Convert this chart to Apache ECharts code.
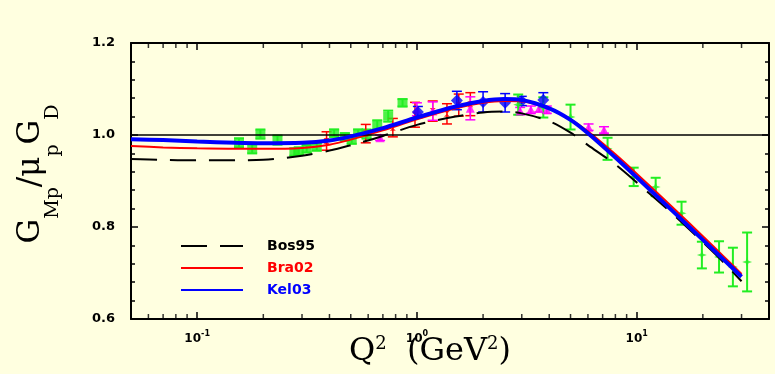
<!DOCTYPE html>
<html>
<head>
<meta charset="utf-8">
<script src="https://cdn.jsdelivr.net/npm/echarts@6/dist/echarts.min.js"></script>
<style>
  html, body { margin: 0; padding: 0; background: #ffffe0; }
  #chart { width: 775px; height: 374px; }
</style>
</head>
<body>
<div id="chart"></div>
<script>
  // Q^2 grid (GeV^2) for the fit curves
  var qGrid = [0.05, 0.07, 0.1, 0.15, 0.2, 0.3, 0.4, 0.5, 0.7, 1.0, 1.5, 2, 2.5, 3, 4, 5, 6, 8, 10, 15, 20, 25, 30];
  var bos95 = [0.948, 0.946, 0.945, 0.945, 0.946, 0.955, 0.966, 0.978, 0.998, 1.022, 1.040, 1.049, 1.051, 1.047, 1.030, 1.005, 0.978, 0.936, 0.897, 0.823, 0.767, 0.722, 0.682];
  var bra02 = [0.976, 0.973, 0.971, 0.970, 0.970, 0.972, 0.979, 0.990, 1.010, 1.034, 1.058, 1.070, 1.074, 1.073, 1.058, 1.034, 1.008, 0.958, 0.916, 0.837, 0.780, 0.735, 0.698];
  var kel03 = [0.991, 0.989, 0.986, 0.983, 0.982, 0.983, 0.988, 0.997, 1.015, 1.038, 1.062, 1.074, 1.078, 1.076, 1.058, 1.033, 1.004, 0.951, 0.908, 0.829, 0.772, 0.728, 0.692];

  // data points: [Q2, GMp/(mu_p GD), error]
  var greenSquares = [
    [0.155, 0.983, 0.010], [0.178, 0.970, 0.010], [0.194, 1.002, 0.010], [0.232, 0.989, 0.010],
    [0.277, 0.963, 0.008], [0.29, 0.965, 0.008], [0.315, 0.970, 0.008], [0.35, 0.974, 0.008],
    [0.42, 1.004, 0.008], [0.47, 0.996, 0.008], [0.505, 0.989, 0.008], [0.54, 1.004, 0.008],
    [0.59, 1.002, 0.010], [0.66, 1.022, 0.010], [0.74, 1.041, 0.012], [0.86, 1.070, 0.008]
  ];
  var redPoints = [
    [0.388, 0.987, 0.020], [0.585, 1.003, 0.020], [0.777, 1.016, 0.020], [0.98, 1.044, 0.027],
    [1.18, 1.052, 0.022], [1.37, 1.046, 0.022], [1.55, 1.065, 0.024], [1.75, 1.067, 0.025]
  ];
  var magentaPoints = [
    [0.68, 0.994, 0.006], [1.0, 1.056, 0.014], [1.18, 1.052, 0.020], [1.75, 1.058, 0.025],
    [2.95, 1.052, 0.008], [3.3, 1.055, 0.008], [3.6, 1.058, 0.008], [3.9, 1.055, 0.008],
    [6.04, 1.017, 0.007], [7.1, 1.011, 0.007]
  ];
  var bluePoints = [
    [1.01, 1.050, 0.012], [1.52, 1.075, 0.020], [2.0, 1.072, 0.022],
    [2.52, 1.070, 0.020], [3.0, 1.074, 0.010], [3.76, 1.076, 0.016]
  ];
  var greenStars = [
    [2.89, 1.066, 0.022], [3.76, 1.060, 0.022], [5.0, 1.039, 0.027], [7.37, 0.970, 0.024],
    [9.69, 0.909, 0.020], [12.2, 0.887, 0.020], [16.0, 0.830, 0.025], [19.8, 0.739, 0.029],
    [23.7, 0.735, 0.034], [27.4, 0.713, 0.042], [31.8, 0.724, 0.064]
  ];

  var xMinorTicks = [0.06, 0.07, 0.08, 0.09, 0.2, 0.3, 0.4, 0.5, 0.6, 0.7, 0.8, 0.9, 2, 3, 4, 5, 6, 7, 8, 9, 20, 30];

  function pairs(xs, ys) {
    return xs.map(function (x, i) { return [x, ys[i]]; });
  }

  function errorBars(color, width) {
    return function (params, api) {
      var x = api.value(0), y = api.value(1), e = api.value(2);
      var hi = api.coord([x, y + e]);
      var lo = api.coord([x, y - e]);
      var w = 5;
      var st = { stroke: color, lineWidth: width };
      return {
        type: 'group',
        children: [
          { type: 'line', shape: { x1: hi[0], y1: hi[1], x2: lo[0], y2: lo[1] }, style: st },
          { type: 'line', shape: { x1: hi[0] - w, y1: hi[1], x2: hi[0] + w, y2: hi[1] }, style: st },
          { type: 'line', shape: { x1: lo[0] - w, y1: lo[1], x2: lo[0] + w, y2: lo[1] }, style: st }
        ]
      };
    };
  }

  var GREEN = '#22ee22', RED = '#ff0000', MAGENTA = '#ff00ff', BLUE = '#0000ff';
  var labelFont = 'DejaVu Sans';

  var myChart = echarts.init(document.getElementById('chart'));

  var axisCommon = {
    axisLine: { show: true, lineStyle: { color: '#000', width: 2 } },
    axisTick: { show: true, inside: true, length: 7, lineStyle: { color: '#000', width: 1.5 } },
    splitLine: { show: false }
  };

  var options = {
    backgroundColor: '#ffffe0',
    animation: false,
    grid: { left: 131, right: 6, top: 43, bottom: 55, containLabel: false, outerBoundsMode: 'none' },
    xAxis: [
      Object.assign({
        type: 'log', logBase: 10, min: 0.05, max: 40, position: 'bottom',
        axisLabel: {
          margin: 11,
          color: '#000',
          formatter: function (v) {
            var e = Math.log10(v);
            if (Math.abs(e - Math.round(e)) > 1e-6) return '';
            return '{b|10}{s|' + Math.round(e) + '}';
          },
          rich: {
            b: { fontFamily: labelFont, fontWeight: 'bold', fontSize: 12, lineHeight: 18, color: '#000' },
            s: { fontFamily: labelFont, fontWeight: 'bold', fontSize: 8, lineHeight: 10, verticalAlign: 'top', color: '#000' }
          }
        }
      }, axisCommon),
      Object.assign({
        type: 'log', logBase: 10, min: 0.05, max: 40, position: 'top',
        axisLabel: { show: false }
      }, axisCommon)
    ],
    yAxis: [
      Object.assign({
        type: 'value', min: 0.6, max: 1.2, interval: 0.2, position: 'left',
        minorTick: { show: true, splitNumber: 5, length: 4, lineStyle: { color: '#000', width: 1.5 } },
        axisLabel: {
          margin: 16, color: '#000', fontFamily: labelFont, fontWeight: 'bold', fontSize: 13,
          formatter: function (v) { return v.toFixed(1); }
        }
      }, axisCommon),
      Object.assign({
        type: 'value', min: 0.6, max: 1.2, interval: 0.2, position: 'right',
        minorTick: { show: true, splitNumber: 5, length: 4, lineStyle: { color: '#000', width: 1.5 } },
        axisLabel: { show: false }
      }, axisCommon)
    ],
    legend: {
      orient: 'vertical',
      left: 175,
      top: 234,
      itemWidth: 62,
      itemHeight: 14,
      itemGap: 8,
      itemStyle: { opacity: 0 },
      lineStyle: { width: 2 },
      textStyle: { fontFamily: labelFont, fontWeight: 'bold', fontSize: 14, padding: [0, 0, 0, 19] },
      data: [
        { name: 'Bos95', textStyle: { color: '#000' } },
        { name: 'Bra02', textStyle: { color: RED } },
        { name: 'Kel03', textStyle: { color: BLUE } }
      ]
    },
    graphic: [
      {
        type: 'text',
        x: 31, y: 174,
        rotation: Math.PI / 2,
        style: {
          text: '{g|G}{s|Mp}{g|/μ}{s|p}{g|G}{s|D}',
          align: 'center',
          verticalAlign: 'middle',
          fill: '#000',
          rich: {
            g: { fontFamily: 'DejaVu Serif', fontSize: 31, lineHeight: 64, fill: '#000' },
            s: { fontFamily: 'DejaVu Serif', fontSize: 19, lineHeight: 19, verticalAlign: 'bottom', fill: '#000' }
          }
        }
      },
      {
        type: 'text',
        x: 430, y: 352,
        style: {
          text: '{m|Q}{s|2}{m|  (GeV}{s|2}{m|)}',
          align: 'center',
          verticalAlign: 'middle',
          fill: '#000',
          rich: {
            m: { fontFamily: 'DejaVu Serif', fontSize: 32, lineHeight: 34, fill: '#000' },
            s: { fontFamily: 'DejaVu Serif', fontSize: 18, lineHeight: 18, verticalAlign: 'top', fill: '#000' }
          }
        }
      }
    ],
    series: [
      { type: 'custom', name: 'gsqErr', renderItem: errorBars(GREEN, 2), data: greenSquares, encode: { x: 0, y: 1 }, z: 2, silent: true },
      { type: 'custom', name: 'redErr', renderItem: errorBars(RED, 1.5), data: redPoints, encode: { x: 0, y: 1 }, z: 2, silent: true },
      { type: 'custom', name: 'magErr', renderItem: errorBars(MAGENTA, 1.5), data: magentaPoints, encode: { x: 0, y: 1 }, z: 2, silent: true },
      { type: 'custom', name: 'bluErr', renderItem: errorBars(BLUE, 1.5), data: bluePoints, encode: { x: 0, y: 1 }, z: 2, silent: true },
      { type: 'custom', name: 'gstErr', renderItem: errorBars(GREEN, 2), data: greenStars, encode: { x: 0, y: 1 }, z: 2, silent: true },
      { type: 'scatter', name: 'gsq', data: greenSquares, symbol: 'rect', symbolSize: [10, 9], itemStyle: { color: GREEN }, z: 3, silent: true },
      { type: 'scatter', name: 'red', data: redPoints, symbol: 'path://M0,0L10,0L5,5L10,10L0,10L5,5Z', symbolSize: 6, itemStyle: { color: RED }, z: 3, silent: true },
      { type: 'scatter', name: 'mag', data: magentaPoints, symbol: 'triangle', symbolSize: 9, itemStyle: { color: MAGENTA }, z: 3, silent: true },
      { type: 'scatter', name: 'blu', data: bluePoints, symbol: 'diamond', symbolSize: 12, itemStyle: { color: BLUE }, z: 3, silent: true },
      { type: 'scatter', name: 'gst', data: greenStars, symbol: 'path://M5,0L6.3,3.7L10,5L6.3,6.3L5,10L3.7,6.3L0,5L3.7,3.7Z', symbolSize: 10, itemStyle: { color: GREEN }, z: 3, silent: true },
      {
        type: 'line', name: 'Bos95', data: pairs(qGrid, bos95), smooth: 0.3, symbol: 'none', z: 4, silent: true,
        lineStyle: { color: '#000', width: 2, type: [26, 13] }, itemStyle: { color: '#000' },
        markLine: {
          silent: true, symbol: 'none', label: { show: false },
          lineStyle: { color: '#000', width: 1.5, type: 'solid' },
          data: [{ yAxis: 1.0 }]
        }
      },
      { type: 'line', name: 'Bra02', data: pairs(qGrid, bra02), smooth: 0.3, symbol: 'none', z: 4, silent: true, lineStyle: { color: RED, width: 2 }, itemStyle: { color: RED } },
      { type: 'line', name: 'Kel03', data: pairs(qGrid, kel03), smooth: 0.3, symbol: 'none', z: 5, silent: true, lineStyle: { color: BLUE, width: 4 }, itemStyle: { color: BLUE } },
      // minor log ticks, bottom and top edges
      {
        type: 'scatter', name: 'minorBottom', data: xMinorTicks.map(function (v) { return [v, 0.6]; }),
        symbol: 'rect', symbolSize: [1.5, 5], symbolOffset: [0, -2.5], clip: false, silent: true, z: 10,
        itemStyle: { color: '#000' }
      },
      {
        type: 'scatter', name: 'minorTop', data: xMinorTicks.map(function (v) { return [v, 1.2]; }),
        symbol: 'rect', symbolSize: [1.5, 5], symbolOffset: [0, 2.5], clip: false, silent: true, z: 10,
        itemStyle: { color: '#000' }
      }
    ]
  };

  myChart.setOption(options, true);
</script>
</body>
</html>
